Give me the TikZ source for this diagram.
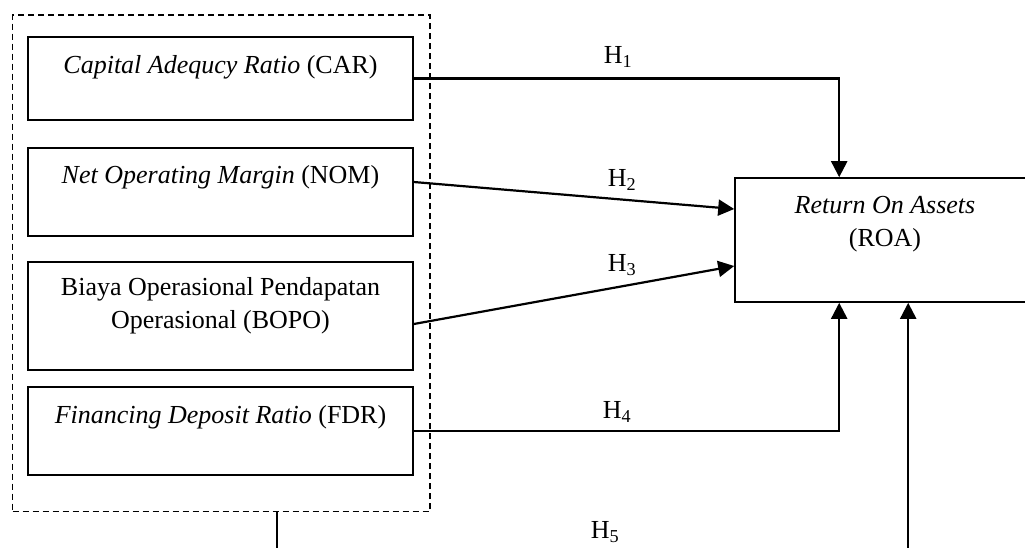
\documentclass[tikz,border=0pt]{standalone}
\usepackage{fontspec}
\setmainfont{Liberation Serif}
\usetikzlibrary{calc,arrows.meta}

\begin{document}
\begin{tikzpicture}[x=1pt,y=-1pt,font=\fontsize{26}{33}\selectfont]
    \tikzstyle{var box}=[draw,line width=1.6pt,minimum width=385,inner sep=0]
    \tikzstyle{group box}=[draw,line width=1.4pt,dash pattern=on 6pt off 4pt,minimum width=417.5,minimum height=496.5,inner sep=0]
    \tikzstyle{path arrow}=[line width=2.2pt,-{Triangle[length=16pt,width=16pt]}]
    \tikzstyle{hyp}=[inner sep=0]

    \useasboundingbox (0,0) rectangle (1025,547);
    \clip (0,0) rectangle (1025,547);

    \node[group box] (grp) at (221.25,263.25) {};

    \node[var box,minimum height=83] (car) at (220.5,78.5) {};
    \node (cart) at (220.5,67) {\textit{Capital Adequcy Ratio} (CAR)};
    \node[var box,minimum height=88] (nom) at (220.5,192) {};
    \node (nomt) at (220.5,177) {\textit{Net Operating Margin} (NOM)};
    \node[var box,minimum height=108] (bopo) at (220.5,316) {};
    \node[align=center] (bopot) at (220.5,306) {Biaya Operasional Pendapatan\\Operasional (BOPO)};
    \node[var box,minimum height=88] (fdr) at (220.5,431) {};
    \node (fdrt) at (220.5,417) {\textit{Financing Deposit Ratio} (FDR)};

    \node[var box,minimum width=300,minimum height=124] (roa) at (885,240) {};
    \node[align=center] (roat) at (885,224) {\textit{Return On Assets}\\(ROA)};

    \draw[path arrow] (car.east) -| ($(roa.north west)+(105,0)$);
    \draw[path arrow] ($(nom.east)+(0,-10)$) -- ($(roa.west)+(0,-31)$);
    \draw[path arrow] ($(bopo.east)+(0,8)$) -- ($(roa.west)+(0,26)$);
    \draw[path arrow] (fdr.east) -| ($(roa.south west)+(105,0)$);
    \draw[path arrow] ($(grp.south west)+(265.5,0)$) -- ++(0,50) -| ($(roa.south west)+(174,0)$);

    \node[hyp] (h1) at (618,57) {H\textsubscript{1}};
    \node[hyp] (h2) at (622,180) {H\textsubscript{2}};
    \node[hyp] (h3) at (622,265) {H\textsubscript{3}};
    \node[hyp] (h4) at (617,412) {H\textsubscript{4}};
    \node[hyp] (h5) at (605,532) {H\textsubscript{5}};
\end{tikzpicture}
\end{document}
